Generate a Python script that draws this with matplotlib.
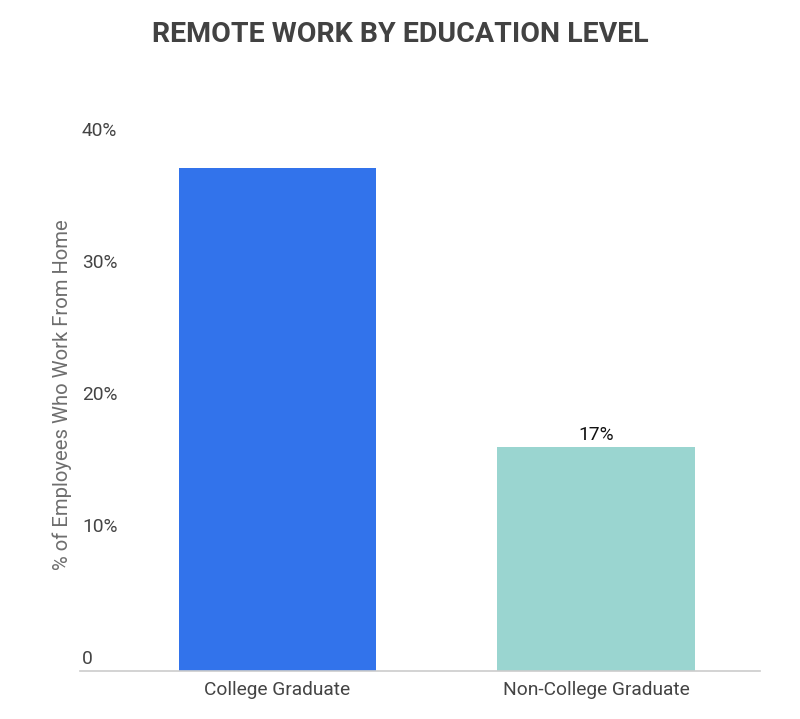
import matplotlib
matplotlib.use("Agg")
import matplotlib.pyplot as plt
from matplotlib.transforms import offset_copy

# data
categories = ["College Graduate", "Non-College Graduate"]
values = [38.1, 17.0]
bar_colors = ["#3273EB", "#9AD5D0"]
bar_labels = ["", "17%"]
tick_values = [0, 10, 20, 30, 40]
tick_labels = ["0", "10%", "20%", "30%", "40%"]

plt.rcParams["font.family"] = ["Roboto", "DejaVu Sans"]

W, H = 800, 719
fig = plt.figure(figsize=(W / 100, H / 100), dpi=100)
fig.patch.set_facecolor("white")

# axes box in pixels: x 80..760, y 143 (40%) .. 671 (0)
ax = fig.add_axes([80 / W, (H - 671) / H, 680 / W, (671 - 143) / H])
ax.set_facecolor("white")

x = list(range(len(categories)))
ax.bar(x, values, width=0.62, color=bar_colors, zorder=2)
ax.set_xlim(-0.62, 1.515)
ax.set_ylim(0, 40)

for s in ["top", "right", "left"]:
    ax.spines[s].set_visible(False)
ax.spines["bottom"].set_color("#cccccc")
ax.spines["bottom"].set_linewidth(1.2)

ax.set_yticks([])
ax.set_xticks(x)
ax.set_xticklabels(categories, fontsize=13.8, color="#444444")
ax.tick_params(axis="x", length=0, pad=7)

# y tick labels sit just above their value, left aligned
lab_tr = offset_copy(ax.get_yaxis_transform(), fig=fig, x=0, y=8.3, units="points")
for v, t in zip(tick_values, tick_labels):
    ax.text(0.003, v, t, transform=lab_tr, ha="left", va="center",
            fontsize=13.8, color="#444444")

# value labels
for xi, v, lab in zip(x, values, bar_labels):
    if lab:
        ax.annotate(lab, (xi, v), xytext=(0, 2), textcoords="offset points",
                    ha="center", va="bottom", fontsize=13.8, color="#111111")

fig.text(62 / W, (H - 395) / H, "% of Employees Who Work From Home",
         rotation=90, ha="center", va="center", fontsize=14.6, color="#6e6e6e")

fig.text(0.5, (H - 35) / H, "REMOTE WORK BY EDUCATION LEVEL",
         ha="center", va="center", fontsize=20.5, fontweight="bold",
         color="#424242")

fig.savefig("out.png", dpi=100)
